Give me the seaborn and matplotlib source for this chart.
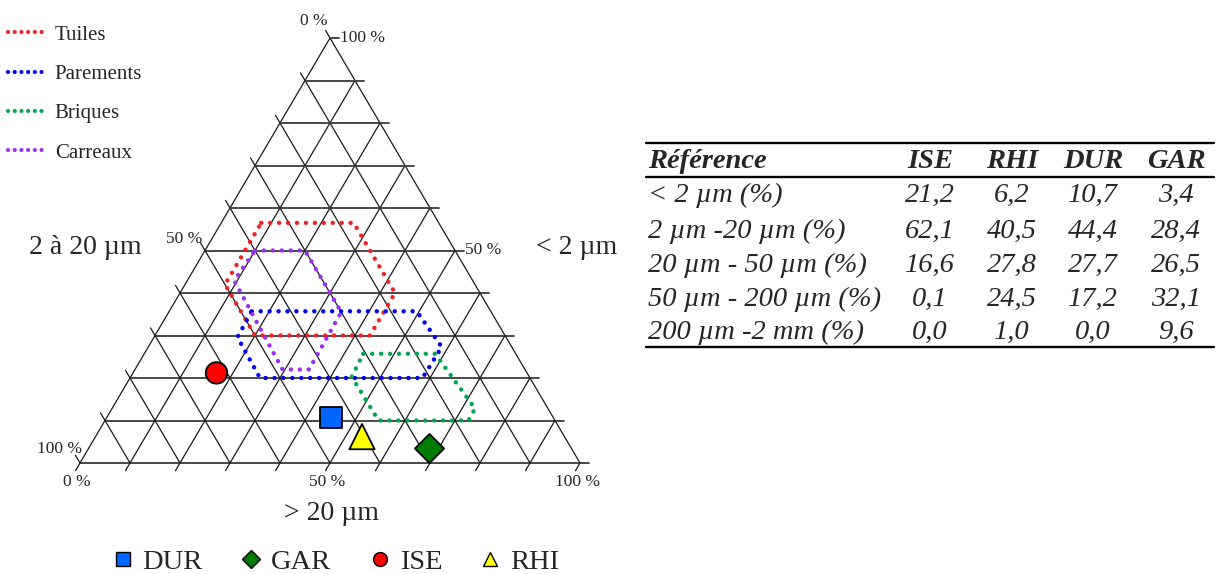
import numpy as np
import pandas as pd
import seaborn as sns
import matplotlib.pyplot as plt
from matplotlib.lines import Line2D

# --- granulometric data (table) ---
refs = ['ISE', 'RHI', 'DUR', 'GAR']
row_labels = ['< 2 µm (%)', '2 µm -20 µm (%)', '20 µm - 50 µm (%)',
              '50 µm - 200 µm (%)', '200 µm -2 mm (%)']
argile = [21.2, 6.2, 10.7, 3.4]          # < 2 µm
limon_fin = [62.1, 40.5, 44.4, 28.4]     # 2 - 20 µm
limon_gros = [16.6, 27.8, 27.7, 26.5]    # 20 - 50 µm
sable_fin = [0.1, 24.5, 17.2, 32.1]      # 50 - 200 µm
sable_gros = [0.0, 1.0, 0.0, 9.6]        # 200 µm - 2 mm

# --- domains: vertices as (% < 2 µm, % > 20 µm) ---
tuiles_argile = [56.5, 56.5, 40, 30, 30, 42]
tuiles_sup20 = [8, 26.5, 43, 43, 20, 8]
parements_argile = [35.7, 35.7, 27.3, 20, 20, 29.6]
parements_sup20 = [16.5, 49.5, 58.7, 58.5, 26, 16.7]
briques_argile = [25.7, 25.7, 12.8, 10, 10, 20.3]
briques_sup20 = [43.8, 58.2, 72.6, 72.7, 54.7, 44.2]
carreaux_argile = [50, 50, 35.5, 22, 22, 42.9]
carreaux_sup20 = [10, 20, 34.5, 34.8, 29.5, 9.4]

H = np.sqrt(3) / 2


def tern(clay, sand):
    clay = np.asarray(clay, dtype=float)
    sand = np.asarray(sand, dtype=float)
    return sand + clay / 2, clay * H


W, Hpx = 1216, 574
sns.set_style('white')
plt.rcParams['font.family'] = ['Liberation Serif', 'DejaVu Serif']
fig = plt.figure(figsize=(W / 100, Hpx / 100), dpi=100)

# triangle axes: bottom-left (80,463), bottom-right (580,463), apex (330,38)
ax = fig.add_axes([80 / W, (Hpx - 463) / Hpx, 500 / W, 425 / Hpx])

tick = 1.8
gkw = dict(color='#1a1a1a', lw=0.9, clip_on=False, zorder=1)
for k in range(0, 101, 10):
    # constant < 2 µm (horizontal), tick to the right
    x0, y0 = tern(k, 0)
    x1, y1 = tern(k, 100 - k)
    ax.plot([x0, x1 + tick], [y0, y1], color='#3a3a3a', lw=1.3, clip_on=False, zorder=1)
    # constant 2-20 µm, tick up-left beyond left edge
    xl, yl = tern(100 - k, 0)
    xb, yb = tern(0, 100 - k)
    ax.plot([xb, xl - 0.5 * tick], [yb, yl + H * tick], **gkw)
    # constant > 20 µm, tick down-left below bottom edge
    xb, yb = tern(0, k)
    xr, yr = tern(100 - k, k)
    ax.plot([xb - 0.5 * tick, xr], [yb - H * tick, yr], **gkw)

# domains
dots = (0, (0.01, 2.0))
domains = [('Tuiles', tuiles_argile, tuiles_sup20, '#ee2222'),
           ('Parements', parements_argile, parements_sup20, '#0000ee'),
           ('Briques', briques_argile, briques_sup20, '#00a651'),
           ('Carreaux', carreaux_argile, carreaux_sup20, '#9b30f0')]
dom_handles = []
for name, a, s, c in domains:
    x, y = tern(a + a[:1], s + s[:1])
    sns.lineplot(x=x, y=y, sort=False, ax=ax, color=c, lw=3.2,
                 linestyle=dots, dash_capstyle='round', zorder=3,
                 estimator=None)
    dom_handles.append(Line2D([], [], color=c, lw=3.0, linestyle=(0, (0.01, 1.6)),
                              dash_capstyle='round', label=name))

# samples
sup20 = np.array(limon_gros) + np.array(sable_fin) + np.array(sable_gros)
px, py = tern(argile, sup20)
pts = pd.DataFrame({'ref': refs, 'x': px, 'y': py})
palette = {'DUR': '#0066ff', 'GAR': '#007a00', 'ISE': '#ff0000', 'RHI': '#ffff00'}
markers = {'DUR': 's', 'GAR': 'D', 'ISE': 'o', 'RHI': '^'}
sizes = {'DUR': 240, 'GAR': 220, 'ISE': 240, 'RHI': 330}
sns.scatterplot(data=pts, x='x', y='y', hue='ref', style='ref', size='ref',
                palette=palette, markers=markers, sizes=sizes, ax=ax,
                edgecolor='black', linewidth=1.3, legend=False, zorder=5,
                clip_on=False)
ax.set_xlim(0, 100)
ax.set_ylim(0, 100 * H)
ax.axis('off')

# tick labels
tfs = 12.5
for v, (dx, dy) in zip([0, 50, 100], [(-12, 12), (-15, 8), (-15, 10)]):
    x, y = tern(100 - v, 0)
    ax.annotate(f'{v} %', (x, y), xytext=(dx, dy), textcoords='offset points',
                ha='center', va='center', fontsize=tfs)
for v in [0, 50, 100]:
    x, y = tern(v, 100 - v)
    ax.annotate(f'{v} %', (x + tick, y), xytext=(1, 0), textcoords='offset points',
                ha='left', va='center', fontsize=tfs)
    x, y = tern(0, v)
    ax.annotate(f'{v} %', (x, y), xytext=(-2, -14), textcoords='offset points',
                ha='center', va='center', fontsize=tfs)

fs_ax = 20
fig.text(85 / W, 1 - 247 / Hpx, '2 à 20 µm', ha='center', va='center', fontsize=fs_ax)
fig.text(577 / W, 1 - 247 / Hpx, '< 2 µm', ha='center', va='center', fontsize=fs_ax)
fig.text(331 / W, 1 - 514 / Hpx, '> 20 µm', ha='center', va='center', fontsize=fs_ax)

# domain legend
fig.legend(handles=dom_handles, loc='upper left', bbox_to_anchor=(8 / W, 1 - 25 / Hpx),
           frameon=False, fontsize=15, handlelength=1.75, handletextpad=0.5,
           labelspacing=0.95, borderaxespad=0, borderpad=0)

# sample legend
pt_handles = [Line2D([], [], ls='none', marker=markers[r], markersize=10 if r != 'GAR' else 9,
                     markerfacecolor=palette[r], markeredgecolor='black',
                     markeredgewidth=1, label=r)
              for r in ['DUR', 'GAR', 'ISE', 'RHI']]
fig.legend(handles=pt_handles, loc='center', bbox_to_anchor=(336 / W, 1 - 562 / Hpx),
           ncol=4, frameon=False, fontsize=20.5, handlelength=0.7, handletextpad=0.35,
           columnspacing=1.35)

# table
tx = fig.add_axes([0, 0, 1, 1])
tx.set_xlim(0, W)
tx.set_ylim(Hpx, 0)
tx.axis('off')
col_x = [930, 1012, 1093, 1176]
row_y = [195, 231, 265, 299, 332]
tfs2 = 20.5
tx.text(648, 162, 'Référence', fontsize=tfs2, fontweight='bold', style='italic',
        ha='left', va='center')
for cx, r in zip(col_x, refs):
    tx.text(cx, 162, r, fontsize=tfs2, fontweight='bold', style='italic',
            ha='center', va='center')
values = [argile, limon_fin, limon_gros, sable_fin, sable_gros]
for ry, lab, vals in zip(row_y, row_labels, values):
    tx.text(648, ry, lab, fontsize=tfs2, style='italic', ha='left', va='center')
    for cx, v in zip(col_x, vals):
        tx.text(cx, ry, f'{v:.1f}'.replace('.', ','), fontsize=tfs2, style='italic',
                ha='center', va='center')
for yy in [143, 177, 347]:
    tx.plot([646, 1214], [yy, yy], color='black', lw=1.7)

fig.savefig('out.png', dpi=100)
